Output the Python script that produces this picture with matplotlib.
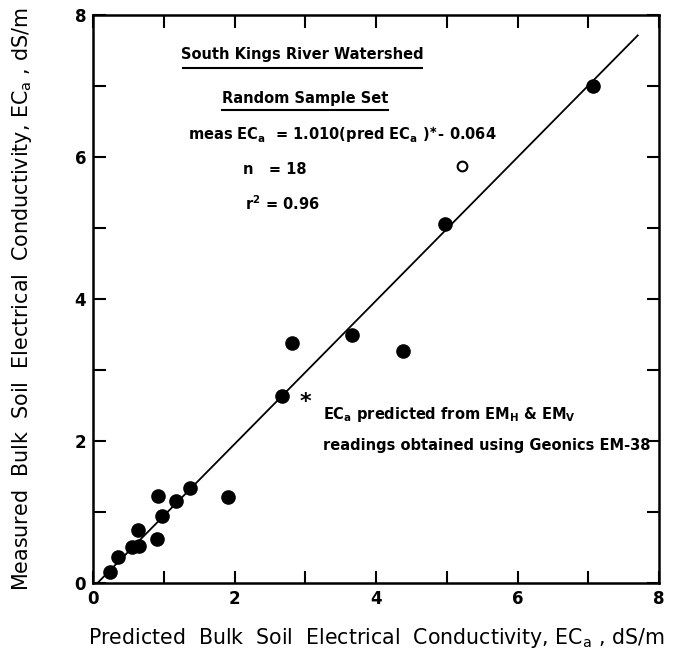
import matplotlib
matplotlib.use("Agg")
from matplotlib import pyplot as plt

# predicted vs measured ECa (dS/m)
pred_ec = [0.24, 0.36, 0.55, 0.65, 0.64, 0.91, 0.97, 0.92, 1.17, 1.37, 1.91,
           2.67, 2.81, 3.66, 4.38, 4.98, 7.07]
meas_ec = [0.16, 0.36, 0.51, 0.52, 0.75, 0.62, 0.94, 1.22, 1.16, 1.34, 1.21,
           2.64, 3.38, 3.49, 3.27, 5.05, 7.00]
# the one open circle
pred_out = [5.22]
meas_out = [5.87]

slope = 1.010
intercept = -0.064
line_x = [0.063, 7.7]

plt.rcParams['font.family'] = ['DejaVu Sans']
plt.rcParams['mathtext.default'] = 'regular'

fig = plt.figure(figsize=(6.83, 6.51), dpi=100)
ax = fig.add_axes([93 / 683, (651 - 583) / 651, 566 / 683, 568 / 651])

ax.plot(line_x, [slope * v + intercept for v in line_x], color='black', lw=1.3)
ax.plot(pred_ec, meas_ec, 'o', color='black', ms=9.5)
ax.plot(pred_out, meas_out, 'o', mfc='white', mec='black', mew=1.5, ms=7)

ax.set_xlim(0, 8)
ax.set_ylim(0, 8)
ax.set_xticks(range(0, 9))
ax.set_yticks(range(0, 9))
ax.set_xticklabels(['0', '', '2', '', '4', '', '6', '', '8'])
ax.set_yticklabels(['0', '', '2', '', '4', '', '6', '', '8'])
ax.tick_params(direction='in', length=9, width=1.5, top=True, right=True,
               labelsize=12, pad=5)
for lab in ax.get_xticklabels() + ax.get_yticklabels():
    lab.set_fontweight('bold')
for sp in ax.spines.values():
    sp.set_linewidth(1.8)

ax.set_xlabel('Predicted  Bulk  Soil  Electrical  Conductivity, EC$_a$ , dS/m',
              fontsize=14.8, labelpad=13)
ax.set_ylabel('Measured  Bulk  Soil  Electrical  Conductivity, EC$_a$ , dS/m',
              fontsize=14.9)
ax.yaxis.set_label_coords(-0.104, 0.5)

# annotation block
tkw = dict(fontsize=10.5, fontweight='bold', va='center')
ax.text(2.96, 7.44, 'South Kings River Watershed', ha='center', **tkw)
ax.plot([1.27, 4.65], [7.26, 7.26], color='black', lw=1.5)
ax.text(3.0, 6.82, 'Random Sample Set', ha='center', **tkw)
ax.plot([1.82, 4.17], [6.66, 6.66], color='black', lw=1.5)
ax.text(1.34, 6.31, 'meas EC$_a$  = 1.010(pred EC$_a$ )$^{\\ast}$- 0.064', ha='left', **tkw)
ax.text(2.12, 5.82, 'n   = 18', ha='left', **tkw)
ax.text(2.15, 5.35, 'r$^2$ = 0.96', ha='left', **tkw)

ax.text(3.0, 2.55, '*', ha='center', fontsize=16, fontweight='bold', va='center')
ax.text(3.25, 2.37, 'EC$_a$ predicted from EM$_H$ & EM$_V$', ha='left', **tkw)
ax.text(3.25, 1.94, 'readings obtained using Geonics EM-38', ha='left', **tkw)

fig.savefig('out.png', dpi=100)
